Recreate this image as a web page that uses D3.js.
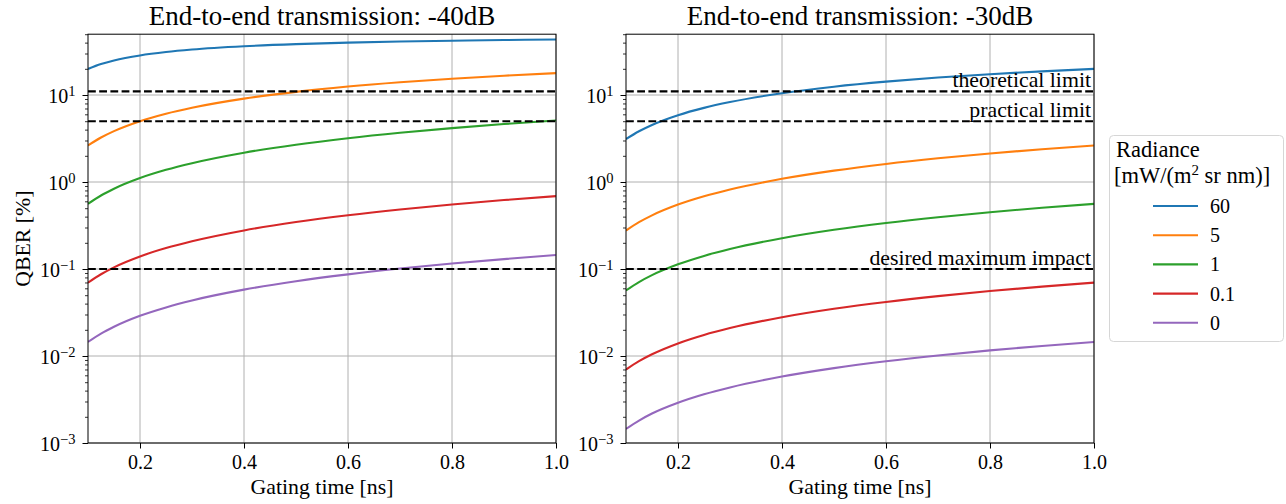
<!DOCTYPE html>
<html>
<head>
<meta charset="utf-8">
<script src="https://cdn.jsdelivr.net/npm/d3@7"></script>
<style>
  html, body { margin: 0; padding: 0; background: #fff; }
  svg { display: block; }
  text { font-family: "Liberation Serif", "DejaVu Serif", serif; fill: #000; }
</style>
</head>
<body>
<svg id="chart" width="1286" height="504"></svg>
<script>
// ---------------- data ----------------
const gatingTime = [0.1, 0.125, 0.15, 0.2, 0.25, 0.3, 0.4, 0.5, 0.6, 0.7, 0.8, 0.9, 1.0];
const radianceLabels = ["60", "5", "1", "0.1", "0"];
const seriesColors = ["#1f77b4", "#ff7f0e", "#2ca02c", "#d62728", "#9467bd"];

// QBER [%] at -40dB
const qber40_r60  = [19.95, 22.68, 24.95, 28.52, 31.20, 33.29, 36.32, 38.43, 39.97, 41.15, 42.08, 42.83, 43.45];
const qber40_r5   = [2.633, 3.249, 3.848, 5.003, 6.101, 7.147, 9.096, 10.875, 12.506, 14.006, 15.391, 16.674, 17.864];
const qber40_r1   = [0.561, 0.700, 0.837, 1.110, 1.380, 1.646, 2.171, 2.685, 3.188, 3.680, 4.162, 4.634, 5.097];
const qber40_r01  = [0.0697, 0.0871, 0.1045, 0.1392, 0.1739, 0.2085, 0.2776, 0.3466, 0.4153, 0.4839, 0.5522, 0.6204, 0.6884];
const qber40_r0   = [0.0145, 0.0181, 0.0217, 0.0290, 0.0362, 0.0435, 0.0579, 0.0724, 0.0868, 0.1012, 0.1157, 0.1300, 0.1446];

// QBER [%] at -30dB
const qber30_r60  = [3.113, 3.831, 4.528, 5.861, 7.117, 8.304, 10.492, 12.461, 14.243, 15.864, 17.344, 18.701, 19.950];
const qber30_r5   = [0.2764, 0.3450, 0.4135, 0.5498, 0.6854, 0.8202, 1.0876, 1.3522, 1.6139, 1.8728, 2.1289, 2.3824, 2.6331];
const qber30_r1   = [0.0567, 0.0708, 0.0850, 0.1132, 0.1415, 0.1697, 0.2260, 0.2821, 0.3382, 0.3941, 0.4499, 0.5056, 0.5611];
const qber30_r01  = [0.00698, 0.00872, 0.01047, 0.01396, 0.01745, 0.02093, 0.02790, 0.03488, 0.04184, 0.04881, 0.05577, 0.06272, 0.06968];
const qber30_r0   = [0.00145, 0.00181, 0.00218, 0.00290, 0.00363, 0.00435, 0.00580, 0.00725, 0.00870, 0.01015, 0.01160, 0.01305, 0.01450];

const limitValues = [11, 5, 0.1];
const limitLabels = ["theoretical limit", "practical limit", "desired maximum impact"];

const xTickValues = [0.2, 0.4, 0.6, 0.8, 1.0];
const yMajorExponents = [-3, -2, -1, 0, 1];
const panelTitles = ["End-to-end transmission: -40dB", "End-to-end transmission: -30dB"];

const panels = [
  { title: panelTitles[0], series: [qber40_r60, qber40_r5, qber40_r1, qber40_r01, qber40_r0], annotate: false },
  { title: panelTitles[1], series: [qber30_r60, qber30_r5, qber30_r1, qber30_r01, qber30_r0], annotate: true }
];

// ---------------- layout ----------------
const svg = d3.select("#chart");
const plotTop = 34.2, plotBottom = 443, plotW = 468;
const panelLeft = [88, 626];
const tickFont = 20, wordFont = 21.8, titleFont = 27;

const y = d3.scaleLog().domain([1e-3, 50]).range([plotBottom, plotTop]);
const yMinor = [];
for (let e = -3; e <= 1; e++) for (let m = 2; m <= 9; m++) { const v = m * Math.pow(10, e); if (v <= 50) yMinor.push(v); }

const defs = svg.append("defs");

panels.forEach((p, i) => {
  const x = d3.scaleLinear().domain([0.1, 1.0]).range([panelLeft[i], panelLeft[i] + plotW]);
  const g = svg.append("g");

  defs.append("clipPath").attr("id", "clip" + i).append("rect")
    .attr("x", panelLeft[i]).attr("y", plotTop).attr("width", plotW).attr("height", plotBottom - plotTop);

  // grid
  g.append("g").selectAll("line").data(xTickValues).join("line")
    .attr("x1", d => x(d)).attr("x2", d => x(d)).attr("y1", plotTop).attr("y2", plotBottom)
    .attr("stroke", "#b0b0b0").attr("stroke-width", 1);
  g.append("g").selectAll("line").data(yMajorExponents.map(e => Math.pow(10, e))).join("line")
    .attr("x1", panelLeft[i]).attr("x2", panelLeft[i] + plotW).attr("y1", d => y(d)).attr("y2", d => y(d))
    .attr("stroke", "#b0b0b0").attr("stroke-width", 1);

  // curves
  const line = d3.line().x((d, k) => x(gatingTime[k])).y(d => y(d)).curve(d3.curveMonotoneX);
  const lg = g.append("g").attr("clip-path", `url(#clip${i})`);
  p.series.forEach((s, k) => {
    lg.append("path").attr("d", line(s)).attr("fill", "none")
      .attr("stroke", seriesColors[k]).attr("stroke-width", 2.1).attr("stroke-linecap", "butt");
  });

  // limits
  limitValues.forEach((v, k) => {
    lg.append("line").attr("x1", panelLeft[i]).attr("x2", panelLeft[i] + plotW)
      .attr("y1", y(v)).attr("y2", y(v)).attr("stroke", "#000").attr("stroke-width", 2.1)
      .attr("stroke-dasharray", "7.8,3.4");
    if (p.annotate) {
      g.append("text").attr("x", panelLeft[i] + plotW - 3).attr("y", y(v) - 4.5)
        .attr("text-anchor", "end").attr("font-size", wordFont).text(limitLabels[k]);
    }
  });

  // frame
  g.append("rect").attr("x", panelLeft[i]).attr("y", plotTop).attr("width", plotW).attr("height", plotBottom - plotTop)
    .attr("fill", "none").attr("stroke", "#000").attr("stroke-width", 1);

  // x axis
  const gx = g.append("g").attr("transform", `translate(0,${plotBottom})`)
    .call(d3.axisBottom(x).tickValues(xTickValues).tickSize(5.5).tickSizeOuter(0).tickPadding(6).tickFormat(d3.format(".1f")));
  gx.select(".domain").remove();
  gx.selectAll(".tick line").attr("stroke", "#000").attr("stroke-width", 1);
  gx.selectAll(".tick text").attr("font-size", tickFont).attr("font-family", "Liberation Serif").attr("fill", "#000");

  // y axis
  const gyMinor = g.append("g").attr("transform", `translate(${panelLeft[i]},0)`)
    .call(d3.axisLeft(y).tickValues(yMinor).tickSize(3).tickSizeOuter(0).tickFormat(""));
  gyMinor.select(".domain").remove();
  gyMinor.selectAll(".tick line").attr("stroke", "#000").attr("stroke-width", 0.8);

  const gy = g.append("g").attr("transform", `translate(${panelLeft[i]},0)`)
    .call(d3.axisLeft(y).tickValues(yMajorExponents.map(e => Math.pow(10, e))).tickSize(5.5).tickSizeOuter(0).tickFormat(""));
  gy.select(".domain").remove();
  gy.selectAll(".tick line").attr("stroke", "#000").attr("stroke-width", 1);
  gy.selectAll(".tick").each(function(d) {
    const e = Math.round(Math.log10(d));
    const t = d3.select(this).append("text").attr("x", -12.5).attr("y", 7).attr("text-anchor", "end")
      .attr("font-size", tickFont).attr("fill", "#000");
    t.append("tspan").text("10");
    t.append("tspan").attr("dy", -7).attr("font-size", 14.5).text(e < 0 ? "\u2212" + (-e) : String(e));
  });

  // labels
  g.append("text").attr("x", panelLeft[i] + plotW / 2).attr("y", 25).attr("text-anchor", "middle")
    .attr("font-size", titleFont).text(p.title);
  g.append("text").attr("x", panelLeft[i] + plotW / 2).attr("y", 494).attr("text-anchor", "middle")
    .attr("font-size", wordFont).text("Gating time [ns]");
});

// y label
svg.append("text").attr("transform", `translate(30,${(plotTop + plotBottom) / 2}) rotate(-90)`)
  .attr("text-anchor", "middle").attr("font-size", wordFont).text("QBER [%]");

// legend
const leg = svg.append("g");
leg.append("rect").attr("x", 1109.5).attr("y", 135.5).attr("width", 174).attr("height", 206).attr("rx", 4)
  .attr("fill", "#fff").attr("stroke", "#d6d6d6").attr("stroke-width", 1);
leg.append("text").attr("x", 1116).attr("y", 157).attr("font-size", 22.5).text("Radiance");
const lt = leg.append("text").attr("x", 1114).attr("y", 183).attr("font-size", 22.5);
lt.append("tspan").text("[mW/(m");
lt.append("tspan").attr("dy", -8).attr("font-size", 15).text("2");
lt.append("tspan").attr("dy", 8).text(" sr nm)]");
radianceLabels.forEach((r, k) => {
  const yy = 206 + k * 29.2;
  leg.append("line").attr("x1", 1153).attr("x2", 1198).attr("y1", yy).attr("y2", yy)
    .attr("stroke", seriesColors[k]).attr("stroke-width", 2.1);
  leg.append("text").attr("x", 1210).attr("y", yy + 7).attr("font-size", tickFont).text(r);
});
</script>
</body>
</html>
